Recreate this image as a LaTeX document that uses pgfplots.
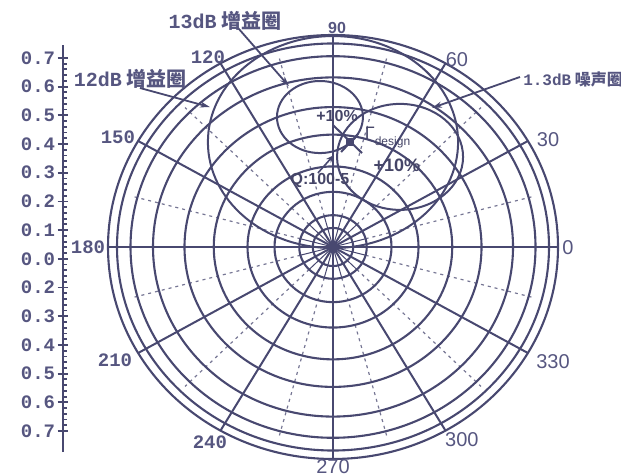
\documentclass[border=0pt]{standalone}
\usepackage{pgfplots}
\pgfplotsset{compat=1.18}
\usetikzlibrary{arrows.meta}
\usepackage{fontspec}
\setmainfont{Liberation Serif}
\newfontfamily\monof{Liberation Mono}
\newfontfamily\sansf{Liberation Sans}
\newfontfamily\cjkf{Noto Sans CJK SC}
\definecolor{linecol}{RGB}{72,72,112}
\definecolor{textcol}{RGB}{86,86,128}
\begin{document}
\begin{tikzpicture}
\begin{axis}[name=main, at={(0,0)}, anchor=south west,
  x=112.5pt, y=106pt,
  xmin=-1.48, xmax=1.28, ymin=-1.0802, ymax=1.1651,
  hide axis]
\coordinate (BL) at (axis cs:-1.48,-1.0802);
\coordinate (TR) at (axis cs:1.28,1.1651);
\coordinate (S) at (axis cs:-1.202,-0.967);
% dashed radials
\pgfplotsinvokeforeach{15,45,...,345}{
  \draw[linecol!75, line width=0.6pt, dash pattern=on 1.5pt off 2pt]
    (axis cs:{0.15*cos(#1)},{0.15*sin(#1)}) -- (axis cs:{0.93*cos(#1)},{0.93*sin(#1)});
  \draw[linecol, line width=0.5pt] (axis cs:0,0) -- (axis cs:{0.15*cos(#1)},{0.15*sin(#1)});
}
% grid circles
\pgfplotsinvokeforeach{0.09,0.15,0.26,0.38,0.53,0.66,0.80,0.90,0.96,1.0}{
  \draw[linecol, line width=1.05pt] (axis cs:0,0) ellipse [x radius=#1, y radius=#1];
}
% solid radials
\pgfplotsinvokeforeach{30,60,120,150,210,240,300,330}{
  \draw[linecol, line width=1pt] (axis cs:0,0) -- (axis cs:{cos(#1)},{sin(#1)});
}
\addplot[linecol, line width=1.1pt, no markers] coordinates {(-1,0) (1,0)};
\addplot[linecol, line width=0.6pt, no markers] coordinates {(0,-1) (0,1)};
\fill[linecol] (axis cs:0,0) ellipse [x radius=0.025, y radius=0.025];
% gain and noise circles
\draw[linecol, line width=1pt] (axis cs:-0.058,0.613) ellipse [x radius=0.191, y radius=0.170];
\draw[linecol, line width=1pt] (axis cs:0,0.495) ellipse [x radius=0.556, y radius=0.5];
\draw[linecol, line width=1pt] (axis cs:0.298,0.425) ellipse [x radius=0.28, y radius=0.25];
% design point
\addplot[linecol, line width=1pt, no markers] coordinates {(0,0.575) (0.129,0.443)};
\addplot[linecol, line width=1pt, no markers] coordinates {(0.036,0.448) (0.111,0.533)};
\addplot[linecol, only marks, mark=square*, mark size=1.6pt] coordinates {(0.0756,0.495)};
% leader arrows
\draw[linecol, line width=0.9pt, -{Stealth[length=5pt,width=3pt]}] (axis cs:-0.422,1.033) -- (axis cs:-0.196,0.759);
\draw[linecol, line width=0.9pt, -{Stealth[length=5pt,width=3pt]}] (axis cs:-0.858,0.750) -- (axis cs:-0.547,0.660);
\draw[linecol, line width=0.9pt, -{Stealth[length=5pt,width=3pt]}] (axis cs:0.831,0.802) -- (axis cs:0.44,0.656);
\draw[linecol, line width=0.8pt, -{Stealth[length=4pt,width=3pt]}] (axis cs:-0.067,0.349) -- (axis cs:0.004,0.434);
% annotations
\node[text=textcol, font=\cjkf\bfseries\fontsize{10}{12}\selectfont] at (axis cs:-0.48,1.066) {{\monof 13dB} 增益圈};
\node[text=textcol, font=\cjkf\bfseries\fontsize{10}{12}\selectfont] at (axis cs:-0.902,0.792) {{\monof 12dB} 增益圈};
\node[text=textcol, anchor=west, inner sep=1pt, font=\cjkf\bfseries\fontsize{8}{10}\selectfont] at (axis cs:0.835,0.788) {{\monof 1.3dB} 噪声圈};
\node[text=textcol!80!black, font=\sansf\bfseries\fontsize{8}{10}\selectfont] at (axis cs:0.018,0.618) {+10\%};
\node[text=textcol!80!black, font=\sansf\bfseries\fontsize{9}{10}\selectfont] at (axis cs:0.284,0.387) {+10\%};
\node[text=textcol!80!black, font=\sansf\bfseries\fontsize{8}{10}\selectfont] at (axis cs:-0.058,0.316) {Q:100-5};
\node[text=textcol!80!black, anchor=west, inner sep=0pt, font=\sansf\fontsize{9}{10}\selectfont] at (axis cs:0.140,0.515) {Γ\raisebox{-3pt}{\fontsize{6}{7}\selectfont design}};
% angle labels
\node[text=textcol, font=\sansf\bfseries\fontsize{8}{10}\selectfont] at (axis cs:0.018,1.033) {90};
\node[text=textcol, font=\monof\bfseries\fontsize{9.5}{11}\selectfont] at (axis cs:-0.556,0.896) {120};
\node[text=textcol, font=\sansf\fontsize{10}{12}\selectfont] at (axis cs:0.551,0.882) {60};
\node[text=textcol, font=\monof\bfseries\fontsize{9.5}{11}\selectfont] at (axis cs:-0.956,0.519) {150};
\node[text=textcol, font=\sansf\fontsize{10}{12}\selectfont] at (axis cs:0.956,0.505) {30};
\node[text=textcol, font=\monof\bfseries\fontsize{9.5}{11}\selectfont] at (axis cs:-1.089,0) {180};
\node[text=textcol, font=\sansf\fontsize{10}{12}\selectfont] at (axis cs:1.044,-0.005) {0};
\node[text=textcol, font=\monof\bfseries\fontsize{9.5}{11}\selectfont] at (axis cs:-0.969,-0.533) {210};
\node[text=textcol, font=\sansf\fontsize{10}{12}\selectfont] at (axis cs:0.978,-0.542) {330};
\node[text=textcol, font=\monof\bfseries\fontsize{9.5}{11}\selectfont] at (axis cs:-0.547,-0.92) {240};
\node[text=textcol, font=\sansf\fontsize{10}{12}\selectfont] at (axis cs:0.573,-0.910) {300};
\node[text=textcol, font=\sansf\fontsize{10}{12}\selectfont] at (axis cs:0,-1.038) {270};
\end{axis}
\begin{axis}[at={(S)}, anchor=south west, scale only axis,
  width=2pt, height=203.5pt,
  xmin=0, xmax=1, ymin=-0.73, ymax=13.45,
  hide x axis, axis y line*=left,
  axis line style={linecol, line width=1pt, -},
  ytick={0,...,13},
  yticklabels={0.7,0.6,0.5,0.4,0.3,0.2,0.0,0.1,0.2,0.3,0.4,0.5,0.6,0.7},
  minor y tick num=4,
  tick align=center,
  major tick length=5pt, minor tick length=2pt,
  tick style={linecol, line width=0.9pt},
  every minor tick/.append style={xshift=1pt},
  yticklabel style={text=textcol, font=\monof\bfseries\fontsize{9.5}{11}\selectfont, inner sep=0pt, xshift=-1pt}]
\end{axis}
\pgfresetboundingbox
\useasboundingbox (BL) rectangle (TR);
\end{tikzpicture}
\end{document}
